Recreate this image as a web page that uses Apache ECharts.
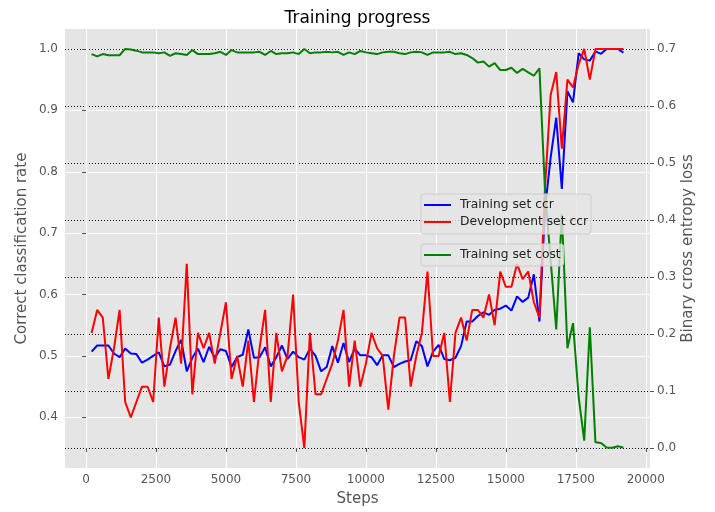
<!DOCTYPE html>
<html><head><meta charset="utf-8">
<script src="https://cdn.jsdelivr.net/npm/echarts@6/dist/echarts.min.js"></script>
<style>html,body{margin:0;padding:0;background:#fff}#c{width:715px;height:512px}</style>
</head><body><div id="c"></div>
<script>
const steps = [200,400,600,800,1000,1200,1400,1600,1800,2000,2200,2400,2600,2800,3000,3200,3400,3600,3800,4000,4200,4400,4600,4800,5000,5200,5400,5600,5800,6000,6200,6400,6600,6800,7000,7200,7400,7600,7800,8000,8200,8400,8600,8800,9000,9200,9400,9600,9800,10000,10200,10400,10600,10800,11000,11200,11400,11600,11800,12000,12200,12400,12600,12800,13000,13200,13400,13600,13800,14000,14200,14400,14600,14800,15000,15200,15400,15600,15800,16000,16200,16400,16600,16800,17000,17200,17400,17600,17800,18000,18200,18400,18600,18800,19000,19200];
const trainCcr = [0.507,0.517,0.517,0.517,0.504,0.498,0.512,0.504,0.503,0.489,0.494,0.500,0.506,0.483,0.486,0.508,0.526,0.475,0.497,0.512,0.490,0.515,0.497,0.511,0.508,0.482,0.498,0.502,0.543,0.497,0.498,0.514,0.483,0.498,0.517,0.495,0.507,0.498,0.494,0.512,0.500,0.475,0.482,0.516,0.489,0.521,0.490,0.512,0.501,0.501,0.498,0.485,0.501,0.501,0.482,0.487,0.491,0.493,0.524,0.516,0.483,0.507,0.518,0.495,0.493,0.497,0.516,0.556,0.556,0.565,0.571,0.567,0.575,0.577,0.582,0.574,0.597,0.588,0.595,0.633,0.556,0.740,0.823,0.888,0.772,0.931,0.913,0.993,0.983,0.981,0.996,0.992,1.000,1.000,1.000,0.994];
const devCcr = [0.5375,0.575,0.5625,0.4625,0.5125,0.575,0.425,0.4,0.425,0.45,0.45,0.425,0.5625,0.45,0.5125,0.5625,0.4875,0.65,0.4375,0.5375,0.5125,0.5375,0.4875,0.5375,0.5875,0.4625,0.5,0.45,0.525,0.425,0.5125,0.575,0.425,0.5375,0.475,0.5,0.6,0.425,0.35,0.5375,0.4375,0.4375,0.4625,0.4875,0.525,0.575,0.45,0.525,0.45,0.4875,0.5375,0.5125,0.5,0.4125,0.5,0.5625,0.5625,0.45,0.5,0.5375,0.6375,0.5,0.5,0.5375,0.425,0.5375,0.5625,0.525,0.575,0.575,0.5625,0.6,0.55,0.6375,0.6125,0.6125,0.65,0.625,0.6375,0.5875,0.5625,0.775,0.925,0.9625,0.8375,0.95,0.9375,0.975,1.0,0.95,1.0,1.0,1.0,1.0,1.0,1.0];
const trainCost = [0.691,0.687,0.691,0.689,0.689,0.689,0.700,0.699,0.697,0.694,0.694,0.694,0.6925,0.694,0.688,0.6925,0.691,0.6895,0.698,0.691,0.691,0.691,0.6925,0.695,0.6895,0.698,0.694,0.694,0.694,0.694,0.695,0.6895,0.6965,0.691,0.6925,0.6925,0.694,0.691,0.700,0.6925,0.694,0.694,0.695,0.694,0.695,0.6895,0.694,0.691,0.6965,0.694,0.6925,0.691,0.694,0.695,0.695,0.6925,0.691,0.694,0.695,0.694,0.6895,0.694,0.694,0.694,0.695,0.691,0.6925,0.6895,0.684,0.676,0.678,0.669,0.675,0.663,0.663,0.667,0.658,0.665,0.659,0.653,0.666,0.45,0.33,0.208,0.411,0.175,0.219,0.09,0.013,0.212,0.010,0.009,0.001,0.0005,0.003,0.001];
const xTicks = [0,2500,5000,7500,10000,12500,15000,17500,20000];
const ccrTicks = [0.4,0.5,0.6,0.7,0.8,0.9,1.0];
const costTicks = [0.0,0.1,0.2,0.3,0.4,0.5,0.6,0.7];
const seriesNames = ['Training set ccr','Development set ccr','Training set cost'];

const pair = (ys) => steps.map((s, i) => [s, ys[i]]);
const FONT = 'DejaVu Sans';
const tickLabel = { color: '#555', fontSize: 12, fontFamily: FONT };
const tick = { show: true, inside: false, length: 4, lineStyle: { color: '#555', width: 1 } };
const legendText = { fontFamily: FONT, fontSize: 12.3, color: '#222', lineHeight: 14, padding: [0, 0, 0, 4] };

const chart = echarts.init(document.getElementById('c'), null, { renderer: 'canvas' });
chart.setOption({
  animation: false,
  backgroundColor: '#ffffff',
  title: {
    text: 'Training progress', left: 'center', top: 5,
    textStyle: { fontFamily: FONT, fontSize: 17, fontWeight: 'normal', color: '#000' }
  },
  grid: { left: 65, right: 65, top: 29, bottom: 41, show: true, backgroundColor: '#E5E5E5', borderWidth: 0 },
  legend: [
    {
      data: [seriesNames[0], seriesNames[1]], orient: 'vertical', left: 421, top: 194,
      icon: 'rect', itemWidth: 27, itemHeight: 2, itemGap: 3,
      padding: [4, 3, 5, 3], backgroundColor: 'rgba(229,229,229,0.8)', borderColor: '#cccccc', borderWidth: 1, borderRadius: 3,
      textStyle: legendText
    },
    {
      data: [seriesNames[2]], orient: 'vertical', left: 421, top: 244,
      icon: 'rect', itemWidth: 27, itemHeight: 2,
      padding: [4, 3, 4, 3], backgroundColor: 'rgba(229,229,229,0.8)', borderColor: '#cccccc', borderWidth: 1, borderRadius: 3,
      textStyle: legendText
    }
  ],
  xAxis: {
    type: 'value', min: -750, max: 20150,
    name: 'Steps', nameLocation: 'middle', nameGap: 24, nameMoveOverlap: false,
    nameTextStyle: { fontFamily: FONT, fontSize: 15, color: '#555' },
    axisLine: { show: false },
    axisTick: Object.assign({ customValues: xTicks }, tick),
    axisLabel: Object.assign({ customValues: xTicks, margin: 6, formatter: v => String(v) }, tickLabel),
    splitLine: { show: true, lineStyle: { color: '#ffffff', width: 1 } }
  },
  yAxis: [
    {
      type: 'value', min: 0.3175, max: 1.0325, position: 'left',
      name: 'Correct classification rate', nameLocation: 'middle', nameGap: 35, nameRotate: 90, nameMoveOverlap: false,
      nameTextStyle: { fontFamily: FONT, fontSize: 15, color: '#555' },
      axisLine: { show: false },
      axisTick: Object.assign({ customValues: ccrTicks }, tick),
      axisLabel: Object.assign({ customValues: ccrTicks, margin: 7, formatter: v => v.toFixed(1) }, tickLabel),
      splitLine: { show: true, lineStyle: { color: '#ffffff', width: 1 } }
    },
    {
      type: 'value', min: -0.035, max: 0.735, position: 'right',
      name: 'Binary cross entropy loss', nameLocation: 'middle', nameGap: 31, nameRotate: 90, nameMoveOverlap: false,
      nameTextStyle: { fontFamily: FONT, fontSize: 15, color: '#555' },
      axisLine: { show: false },
      axisTick: Object.assign({ customValues: costTicks }, tick),
      axisLabel: Object.assign({ customValues: costTicks, margin: 7, formatter: v => v.toFixed(1) }, tickLabel),
      splitLine: { show: true, lineStyle: { color: '#111', width: 1, type: [1, 2] } }
    }
  ],
  series: [
    { name: seriesNames[0], type: 'line', yAxisIndex: 0, data: pair(trainCcr), showSymbol: false, symbol: 'none',
      lineStyle: { color: '#0000ff', width: 2 }, itemStyle: { color: '#0000ff' } },
    { name: seriesNames[1], type: 'line', yAxisIndex: 0, data: pair(devCcr), showSymbol: false, symbol: 'none',
      lineStyle: { color: '#ff0000', width: 2 }, itemStyle: { color: '#ff0000' } },
    { name: seriesNames[2], type: 'line', yAxisIndex: 1, data: pair(trainCost), showSymbol: false, symbol: 'none',
      lineStyle: { color: '#008000', width: 2 }, itemStyle: { color: '#008000' } }
  ]
});
</script>
</body></html>
